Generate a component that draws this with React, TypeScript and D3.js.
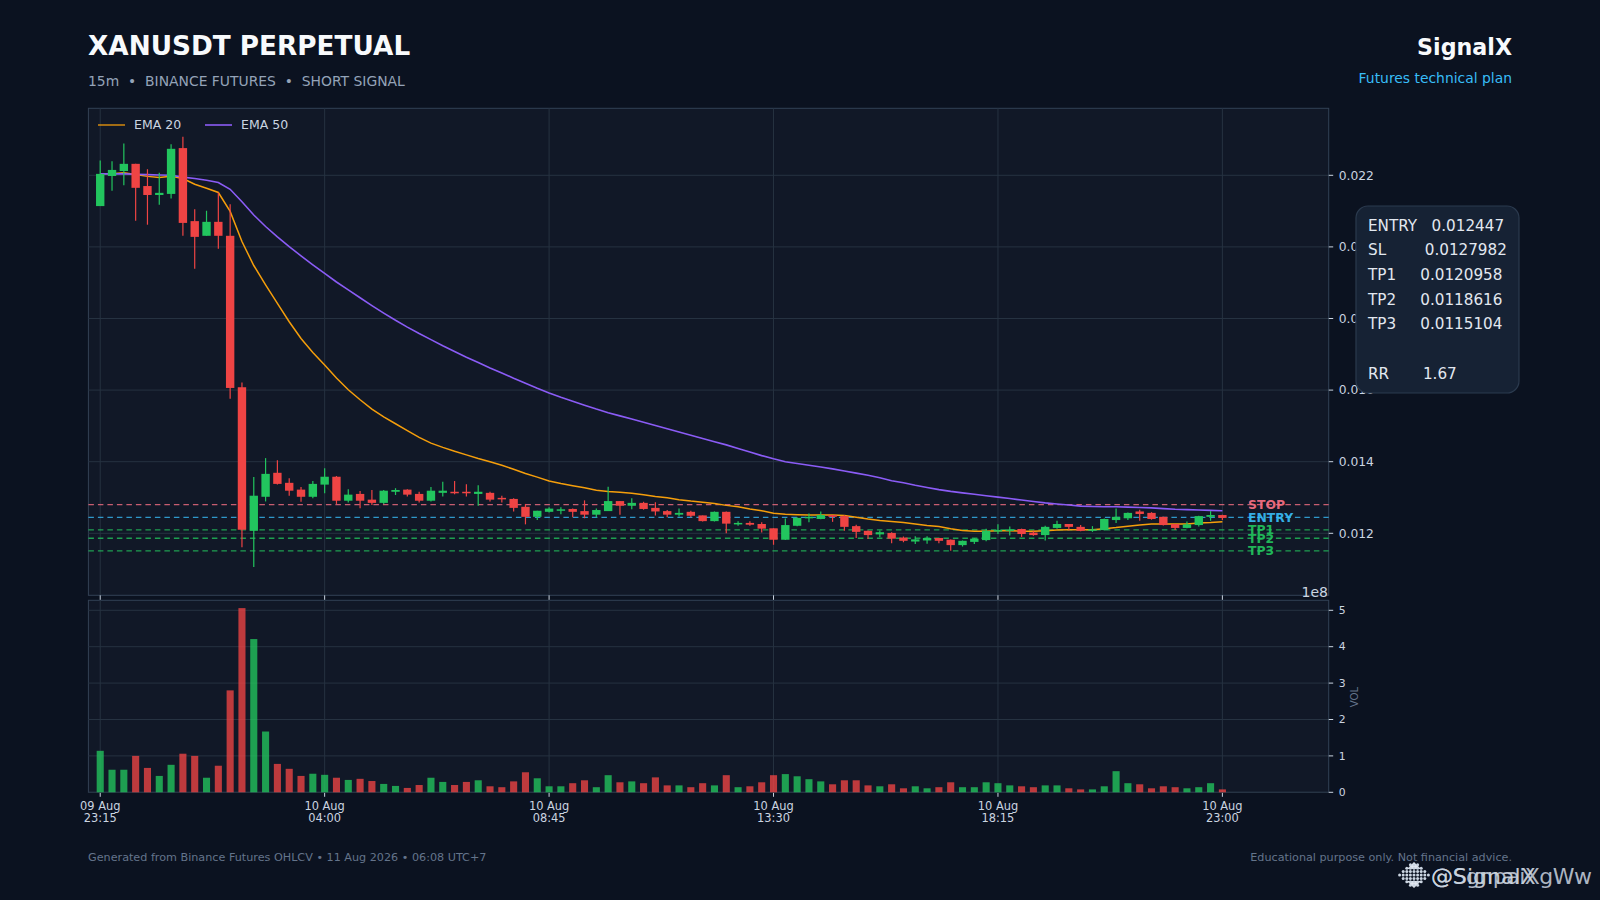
import React from "react";
import * as d3 from "d3";

const opens = [.02114,.02198,.02212,.02232,.02170,.02145,.02148,.02276,.02072,.02031,.02070,.02031,.01608,.01207,.01302,.01369,.01341,.01322,.01302,.01336,.01358,.01291,.01310,.01294,.01285,.01316,.01322,.01310,.01291,.01313,.01316,.01316,.01310,.01313,.01299,.01296,.01274,.01246,.01260,.01264,.01268,.01262,.01252,.01262,.01290,.01277,.01285,.01271,.01262,.01252,.01260,.01250,.01234,.01260,.01227,.01229,.01226,.01214,.01182,.01221,.01243,.01240,.01251,.01248,.01220,.01207,.01197,.01201,.01188,.01177,.01180,.01187,.01182,.01167,.01176,.01181,.01206,.01207,.01212,.01202,.01195,.01215,.01226,.01218,.01207,.01209,.01237,.01242,.01261,.01257,.01246,.01226,.01215,.01223,.01246,.01251];
const closes = [.02204,.02215,.02232,.02165,.02145,.02151,.02274,.02067,.02028,.02070,.02031,.01606,.01210,.01305,.01366,.01338,.01319,.01302,.01338,.01358,.01291,.01308,.01291,.01285,.01319,.01321,.01308,.01291,.01319,.01319,.01312,.01312,.01316,.01294,.01296,.01271,.01246,.01263,.01269,.01267,.01260,.01252,.01265,.01290,.01277,.01285,.01268,.01261,.01252,.01257,.01249,.01234,.01260,.01227,.01229,.01224,.01213,.01182,.01223,.01243,.01246,.01251,.01246,.01218,.01204,.01195,.01203,.01185,.01179,.01183,.01187,.01179,.01167,.01179,.01185,.01207,.01209,.01211,.01198,.01195,.01218,.01226,.01218,.01207,.01211,.01240,.01246,.01257,.01254,.01240,.01223,.01215,.01225,.01248,.01251,.01243];
const highs = [.02241,.02239,.02289,.02232,.02217,.02207,.02287,.02308,.02105,.02101,.02152,.02119,.01621,.01357,.01410,.01404,.01354,.01329,.01346,.01382,.01360,.01323,.01318,.01321,.01321,.01326,.01323,.01316,.01329,.01344,.01346,.01337,.01334,.01316,.01305,.01298,.01282,.01263,.01273,.01273,.01269,.01292,.01269,.01330,.01290,.01298,.01288,.01287,.01265,.01269,.01263,.01250,.01261,.01261,.01234,.01234,.01231,.01214,.01241,.01245,.01255,.01261,.01251,.01251,.01224,.01208,.01208,.01203,.01191,.01192,.01192,.01187,.01183,.01180,.01187,.01213,.01225,.01219,.01213,.01207,.01221,.01235,.01226,.01223,.01220,.01241,.01269,.01258,.01266,.01259,.01246,.01226,.01233,.01249,.01262,.01252];
const lows = [.02114,.02157,.02172,.02073,.02062,.02118,.02135,.02031,.01939,.02031,.01995,.01576,.01161,.01106,.01289,.01336,.01305,.01288,.01298,.01312,.01282,.01286,.01270,.01279,.01282,.01307,.01303,.01286,.01289,.01303,.01309,.01303,.01277,.01289,.01286,.01261,.01225,.01237,.01258,.01253,.01245,.01242,.01245,.01262,.01252,.01267,.01266,.01250,.01245,.01247,.01245,.01233,.01233,.01200,.01221,.01221,.01202,.01168,.01181,.01220,.01231,.01239,.01232,.01207,.01187,.01184,.01189,.01172,.01175,.01170,.01171,.01172,.01151,.01163,.01170,.01178,.01198,.01194,.01190,.01193,.01180,.01213,.01208,.01206,.01204,.01208,.01229,.01237,.01235,.01238,.01222,.01209,.01214,.01219,.01235,.01237];
const ema20 = [.02204,.02204,.02207,.02202,.02197,.02194,.02197,.02191,.02175,.02164,.02152,.02099,.02015,.01948,.01894,.01842,.01791,.01744,.01705,.01670,.01634,.01601,.01573,.01547,.01525,.01506,.01487,.01468,.01452,.01440,.01429,.01419,.01409,.01400,.01390,.01379,.01367,.01357,.01346,.01339,.01333,.01327,.01320,.01317,.01315,.01312,.01308,.01303,.01299,.01294,.01290,.01287,.01283,.01278,.01274,.01268,.01263,.01256,.01253,.01252,.01251,.01251,.01251,.01250,.01245,.01240,.01236,.01233,.01230,.01226,.01222,.01219,.01213,.01208,.01206,.01206,.01207,.01207,.01206,.01206,.01207,.01209,.01210,.01210,.01210,.01213,.01216,.01220,.01223,.01226,.01226,.01226,.01226,.01229,.01230,.01232];
const ema50 = [.02204,.02204,.02204,.02203,.02202,.02201,.02200,.02195,.02191,.02186,.02180,.02161,.02126,.02089,.02057,.02028,.02001,.01975,.01950,.01926,.01902,.01880,.01858,.01836,.01815,.01795,.01776,.01758,.01741,.01724,.01708,.01692,.01677,.01662,.01648,.01633,.01619,.01605,.01592,.01580,.01569,.01558,.01547,.01537,.01528,.01519,.01510,.01501,.01492,.01483,.01474,.01465,.01456,.01447,.01437,.01427,.01417,.01408,.01400,.01395,.01390,.01385,.01380,.01374,.01368,.01362,.01355,.01347,.01341,.01334,.01328,.01322,.01317,.01313,.01309,.01305,.01301,.01297,.01293,.01289,.01285,.01282,.01279,.01276,.01275,.01274,.01274,.01273,.01272,.01271,.01269,.01267,.01266,.01265,.01264,.01263];
const volumes = [1.14,.62,.62,1.0,.67,.45,.755,1.06,1.0,.40,.73,2.8,5.06,4.21,1.67,.78,.645,.45,.51,.48,.40,.34,.37,.31,.23,.175,.12,.20,.40,.285,.20,.285,.33,.165,.14,.30,.55,.385,.165,.165,.25,.33,.14,.47,.275,.30,.25,.41,.19,.19,.14,.25,.19,.47,.14,.165,.275,.47,.50,.44,.36,.30,.22,.33,.33,.19,.165,.22,.11,.165,.11,.14,.275,.14,.14,.275,.25,.19,.165,.14,.19,.19,.11,.08,.08,.165,.58,.25,.22,.11,.165,.14,.11,.14,.25,.08];

const xTickIndex = [0, 19, 38, 57, 76, 95];
const xTickDay = ["09 Aug", "10 Aug", "10 Aug", "10 Aug", "10 Aug", "10 Aug"];
const xTickTime = ["23:15", "04:00", "08:45", "13:30", "18:15", "23:00"];
const priceTicks = [0.012, 0.014, 0.016, 0.018, 0.02, 0.022];
const volumeTicks = [0, 1, 2, 3, 4, 5];
const levelNames = ["STOP", "ENTRY", "TP1", "TP2", "TP3"];
const levelValues = [0.0127982, 0.012447, 0.0120958, 0.0118616, 0.0115104];
const levelColors = ["#fb7185", "#38bdf8", "#22c55e", "#22c55e", "#22c55e"];
const panelLines = ["ENTRY   0.012447", "SL        0.0127982", "TP1     0.0120958", "TP2     0.0118616", "TP3     0.0115104", "", "RR       1.67"];

const FONT = "'DejaVu Sans', sans-serif";
const L = 88.4, R = 1328.7, T1 = 108.3, B1 = 595.3, T2 = 600.3, B2 = 792.3;
const UP = "#22c55e", DOWN = "#ef4444";
const BORDER = "#334155", GRID = "#263241", TICK = "#cbd5e1";

const x = d3.scaleLinear().domain([-1, 104]).range([L, R]);
const y = d3.scaleLinear().domain([0.012, 0.022]).range([533.3, 175.3]);
const yV = d3.scaleLinear().domain([0, 5]).range([B2, 610.3]);
const step = x(1) - x(0);
const lineGen = d3.line<number>().x((_, i) => x(i)).y((d) => y(d)).curve(d3.curveLinear);

const logoDots = d3.range(-4, 5).flatMap((a) =>
  d3.range(-3, 4).filter((b) => Math.abs(a) + Math.abs(b) <= 4).map((b) => [a, b]));

export default function App() {
  return (
    <svg width={1600} height={900} style={{ position: "absolute", left: 0, top: 0, display: "block" }} fontFamily={FONT}>
      <rect width={1600} height={900} fill="#0b1220" />
      <text x={88} y={55} fontSize={26.3} fontWeight="bold" fill="#f8fafc">XANUSDT PERPETUAL</text>
      <text x={88} y={86} fontSize={13.9} fill="#94a3b8" style={{ whiteSpace: "pre" }}>{"15m  •  BINANCE FUTURES  •  SHORT SIGNAL"}</text>
      <text x={1512} y={55} fontSize={22.2} fontWeight="bold" fill="#f8fafc" textAnchor="end">SignalX</text>
      <text x={1512} y={83} fontSize={13.9} fill="#38bdf8" textAnchor="end">Futures technical plan</text>

      <rect x={L} y={T1} width={R - L} height={B1 - T1} fill="#111827" stroke={BORDER} />
      <rect x={L} y={T2} width={R - L} height={B2 - T2} fill="#111827" stroke={BORDER} />

      {xTickIndex.map((i) => (
        <g key={"gx" + i}>
          <line x1={x(i)} x2={x(i)} y1={T1} y2={B1} stroke={GRID} />
          <line x1={x(i)} x2={x(i)} y1={T2} y2={B2} stroke={GRID} />
          <line x1={x(i)} x2={x(i)} y1={B1} y2={B1 + 4.5} stroke={TICK} />
          <line x1={x(i)} x2={x(i)} y1={B2} y2={B2 + 4.5} stroke={TICK} />
        </g>
      ))}
      {priceTicks.map((p) => (
        <g key={"py" + p}>
          <line x1={L} x2={R} y1={y(p)} y2={y(p)} stroke={GRID} />
          <line x1={R} x2={R + 4.5} y1={y(p)} y2={y(p)} stroke={TICK} />
          <text x={R + 10} y={y(p)} dy="0.35em" fontSize={12.3} fill={TICK}>{d3.format(".3f")(p)}</text>
        </g>
      ))}
      {volumeTicks.map((v) => (
        <g key={"vy" + v}>
          <line x1={L} x2={R} y1={yV(v)} y2={yV(v)} stroke={GRID} />
          <line x1={R} x2={R + 4.5} y1={yV(v)} y2={yV(v)} stroke={TICK} />
          <text x={R + 10} y={yV(v)} dy="0.35em" fontSize={10.8} fill={TICK}>{v}</text>
        </g>
      ))}

      {levelValues.map((v, i) => (
        <line key={levelNames[i]} x1={L} x2={R} y1={y(v)} y2={y(v)} stroke={levelColors[i]} strokeOpacity={0.78} strokeWidth={1.3} strokeDasharray="5.5 4" />
      ))}

      <path d={lineGen(ema20) ?? ""} fill="none" stroke="#f59e0b" strokeWidth={1.5} />
      <path d={lineGen(ema50) ?? ""} fill="none" stroke="#8b5cf6" strokeWidth={1.6} />

      {opens.map((o, i) => {
        const c = closes[i];
        const col = c >= o ? UP : DOWN;
        const w = step * 0.71;
        return (
          <g key={"c" + i}>
            <line x1={x(i)} x2={x(i)} y1={y(highs[i])} y2={y(lows[i])} stroke={col} strokeWidth={1.2} />
            <rect x={x(i) - w / 2} width={w} y={y(Math.max(o, c))} height={Math.max(1.5, Math.abs(y(o) - y(c)))} fill={col} />
          </g>
        );
      })}

      {volumes.map((v, i) => {
        const w = step * 0.6;
        return <rect key={"v" + i} x={x(i) - w / 2} width={w} y={yV(v)} height={yV(0) - yV(v)} fill={closes[i] >= opens[i] ? UP : DOWN} fillOpacity={0.78} />;
      })}

      {levelNames.map((n, i) => (
        <text key={"l" + n} x={1248} y={y(levelValues[i])} dy="0.36em" fontSize={12.4} fontWeight="bold" fill={levelColors[i]} fillOpacity={0.92}>{n}</text>
      ))}

      <line x1={98} x2={125} y1={125} y2={125} stroke="#f59e0b" strokeOpacity={0.85} strokeWidth={1.5} />
      <text x={134} y={129} fontSize={12.5} fill={TICK}>EMA 20</text>
      <line x1={205} x2={232} y1={125} y2={125} stroke="#8b5cf6" strokeWidth={1.6} />
      <text x={241} y={129} fontSize={12.5} fill={TICK}>EMA 50</text>

      <text x={1328} y={597} fontSize={14} fill={TICK} textAnchor="end">1e8</text>
      <text transform="translate(1358,697) rotate(-90)" fontSize={10.2} fill="#64748b" textAnchor="middle">VOL</text>

      {xTickIndex.map((i, k) => (
        <g key={"xl" + i} fontSize={11.4} fill={TICK} textAnchor="middle">
          <text x={x(i)} y={810}>{xTickDay[k]}</text>
          <text x={x(i)} y={822}>{xTickTime[k]}</text>
        </g>
      ))}

      <rect x={1356} y={206} width={163} height={187} rx={12} fill="#162234" stroke="#2b3a4e" strokeWidth={1.2} />
      {panelLines.map((s, i) => (
        <text key={"p" + i} x={1368} y={230.5 + i * 24.7} fontSize={15.2} fill="#e2e8f0" style={{ whiteSpace: "pre" }}>{s}</text>
      ))}

      <text x={88} y={861} fontSize={11.2} fill="#64748b">Generated from Binance Futures OHLCV • 11 Aug 2026 • 06:08 UTC+7</text>
      <text x={1512} y={861} fontSize={11.2} fill="#64748b" textAnchor="end">Educational purpose only. Not financial advice.</text>

      <g>
        <path d="M1414 862l7 7h-14zM1414 888l7-7h-14z" fill="#e2e8f0" />
        {logoDots.map(([a, b]) => (
          <circle key={a + "_" + b} cx={1414 + a * 3.6} cy={875 + b * 3.4} r={1.5} fill="#cbd5e1" />
        ))}
      </g>
      <text x={1431} y={884} fontSize={22} fill="#e2e8f0" fillOpacity={0.85}>@SignalX</text>
      <text x={1431} y={884} fontSize={22} fill="#cbd5e1" fillOpacity={0.85} textLength={161}>@SgnpaiXgWw</text>
    </svg>
  );
}
